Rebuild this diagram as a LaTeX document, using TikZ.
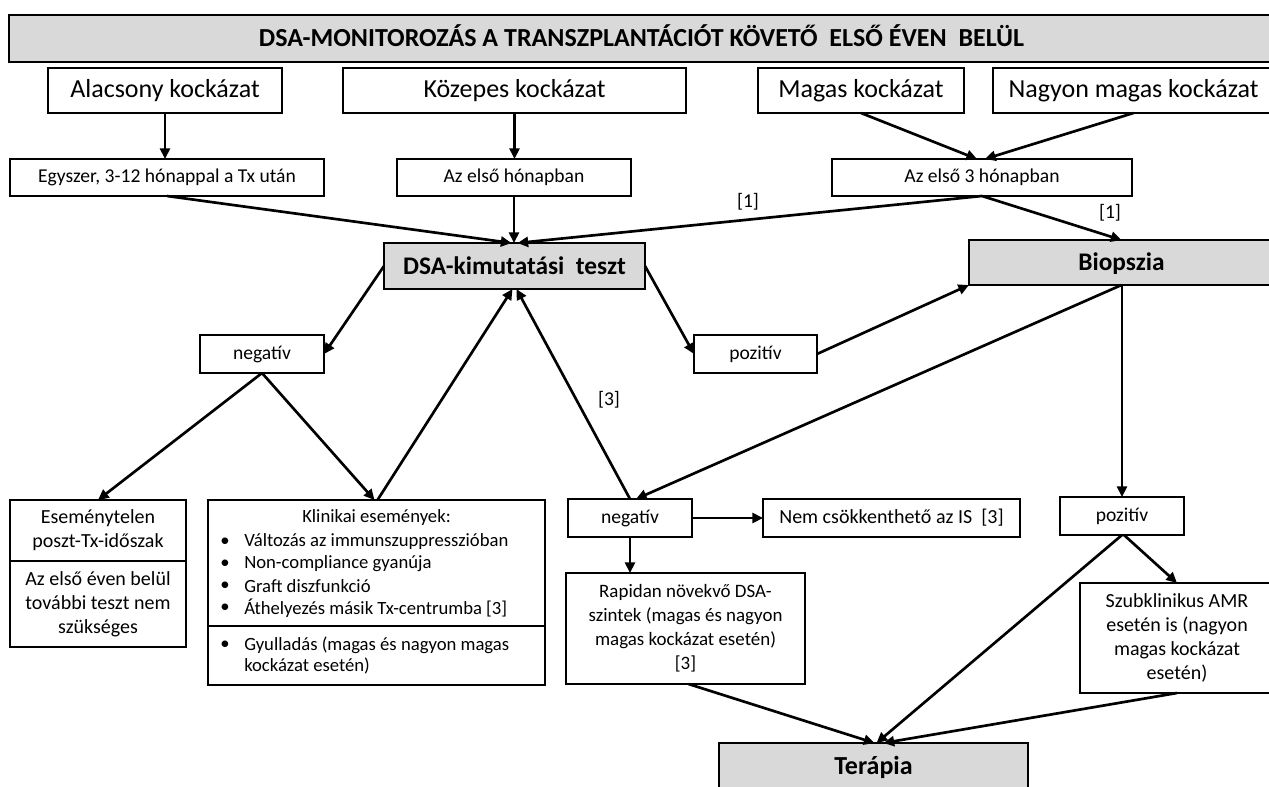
\documentclass[tikz,border=0pt]{standalone}
\usepackage{fontspec}
\setmainfont{Carlito}
\usetikzlibrary{arrows.meta,calc}
\definecolor{boxgray}{HTML}{D9D9D9}
\newcommand\mybox[7]{\node[#6, minimum width={(#4-#2)*0.75pt}, minimum height={(#5-#3)*0.75pt}] (#1) at ({(#2+#4)/2},{(#3+#5)/2}) {#7};}
\newcommand\fs[2]{\fontsize{#1}{#2}\selectfont}
\begin{document}
\begin{tikzpicture}[x=0.75pt,y=-0.75pt,
  box/.style={draw, line width=2.2pt, fill=white, inner sep=0pt, outer sep=0pt, align=center, font=\fs{14.7}{18}},
  gbox/.style={box, fill=boxgray, font=\bfseries\fs{19}{21}},
  arr/.style={line width=2pt, -{Triangle[length=8pt,width=7.5pt]}},
  lbl/.style={inner sep=0pt, font=\fs{14.7}{18}},
  itm/.style={inner sep=0pt, anchor=west, font=\fs{14}{17}}]
\useasboundingbox (0,0) rectangle (1269,786);
% header
\mybox{title}{9}{15}{1274}{62}{gbox, font=\bfseries\fs{19.5}{21}, text height=12.6pt, text depth=0pt}{DSA-MONITOROZÁS A TRANSZPLANTÁCIÓT KÖVETŐ\ \ ELSŐ ÉVEN\ \ BELÜL}
% risk groups
\mybox{alac}{48}{68}{282}{113}{box, font=\fs{19.5}{22}}{Alacsony kockázat}
\mybox{kozep}{343}{68}{686}{113}{box, font=\fs{19.5}{22}}{Közepes kockázat}
\mybox{magas}{758}{68}{964}{113}{box, font=\fs{19.5}{22}}{Magas kockázat}
\mybox{nagyon}{993}{68}{1274}{113}{box, font=\fs{19.5}{22}}{Nagyon magas kockázat}
% timing
\mybox{egy}{10}{159}{324}{196}{box}{Egyszer, 3-12 hónappal a Tx után}
\mybox{elso}{397}{159}{631}{196}{box}{Az első hónapban}
\mybox{har}{832}{159}{1132}{196}{box}{Az első 3 hónapban}
% tests
\mybox{dsa}{384}{243}{645}{289}{gbox}{DSA-kimutatási\ \ teszt}
\mybox{bio}{969}{240}{1274}{285}{gbox, text height=12.2pt, text depth=0pt}{Biopszia}
\mybox{negL}{200}{335}{324}{373}{box}{negatív}
\mybox{poz}{694}{335}{817}{373}{box}{pozitív}
% lower left
\mybox{esem}{10}{500}{186}{561}{box, font=\fs{15}{18}}{Eseménytelen\\poszt-Tx-időszak}
\mybox{esemb}{10}{561}{186}{647}{box, font=\fs{15}{18}}{Az első éven belül\\további teszt nem\\szükséges}
\mybox{klin}{208}{500}{545}{626}{box}{}
\mybox{klinb}{208}{626}{545}{685}{box}{}
\node[inner sep=0pt, font=\fs{14}{17}] (klh) at (376.5,518) {Klinikai események:};
\node[itm] (b1) at (220,542) {•};
\node[itm] (t1) at (244,542) {Változás az immunszuppresszióban};
\node[itm] (b2) at (220,564) {•};
\node[itm] (t2) at (244,564) {Non-compliance gyanúja};
\node[itm] (b3) at (220,586) {•};
\node[itm] (t3) at (244,586) {Graft diszfunkció};
\node[itm] (b4) at (220,608) {•};
\node[itm] (t4) at (244,608) {Áthelyezés másik Tx-centrumba [3]};
\node[itm] (b5) at (220,645) {•};
\node[itm] (t5) at (244,645) {Gyulladás (magas és nagyon magas};
\node[itm] (t6) at (244,666) {kockázat esetén)};
% lower middle / right
\mybox{negM}{568}{499}{692}{537}{box}{negatív}
\mybox{nem}{763}{499}{1020}{537}{box, font=\fs{15}{18}}{Nem csökkenthető az IS~~[3]}
\mybox{pozR}{1060}{497}{1184}{535}{box}{pozitív}
\mybox{rap}{566}{573}{805}{684}{box, font=\fs{14.2}{18}}{Rapidan növekvő DSA-\\szintek (magas és nagyon\\magas kockázat esetén)\\{}[3]}
\mybox{szub}{1080}{583}{1274}{693}{box, font=\fs{15}{18}}{Szubklinikus AMR\\esetén is (nagyon\\magas kockázat\\esetén)}
\mybox{ter}{719}{743}{1028}{792}{gbox, font=\bfseries\fs{19.5}{22}}{Terápia}
% connectors
\draw[arr] (alac.south) -- (alac.south |- egy.north);
\draw[arr] (kozep.south) -- (kozep.south |- elso.north);
\draw[arr] (magas.south) -- ($(har.north)+(-5,0)$);
\draw[arr] (nagyon.south) -- ($(har.north)+(3,0)$);
\draw[arr] (egy.south) -- ($(dsa.north)+(-3,0)$);
\draw[arr] (elso.south) -- (elso.south |- dsa.north);
\draw[arr] (har.south) -- ($(dsa.north)+(3,0)$);
\draw[arr] (har.south) -- (bio.north);
\node[lbl] (l1a) at (748,202) {[1]};
\node[lbl] (l1b) at (1110,213) {[1]};
\draw[arr] (dsa.west) -- (negL.east);
\draw[arr] (dsa.east) -- (poz.west);
\draw[arr] (poz.east) -- (bio.south west);
\draw[arr] (negL.south) -- (esem.north);
\draw[arr] (negL.south) -- ($(klin.north)+(-2,0)$);
\draw[arr] ($(klin.north)+(1,0)$) -- ($(dsa.south)+(-2,0)$);
\draw[arr] (negM.north) -- ($(dsa.south)+(2,0)$);
\node[lbl] (l3) at (609,400) {[3]};
\draw[arr] (bio.south) -- ($(negM.north)+(6,0)$);
\draw[arr] (pozR.north |- bio.south) -- (pozR.north);
\draw[arr] (negM.east) -- (nem.west);
\draw[arr] (negM.south) -- (negM.south |- rap.north);
\draw[arr] ($(pozR.south)+(2,0)$) -- (szub.north);
\draw[arr] (pozR.south) -- ($(ter.north)+(3,0)$);
\draw[arr] ($(rap.south)+(3,0)$) -- ($(ter.north)+(1,0)$);
\draw[arr] (szub.south) -- ($(ter.north)+(10,0)$);
\end{tikzpicture}
\end{document}
